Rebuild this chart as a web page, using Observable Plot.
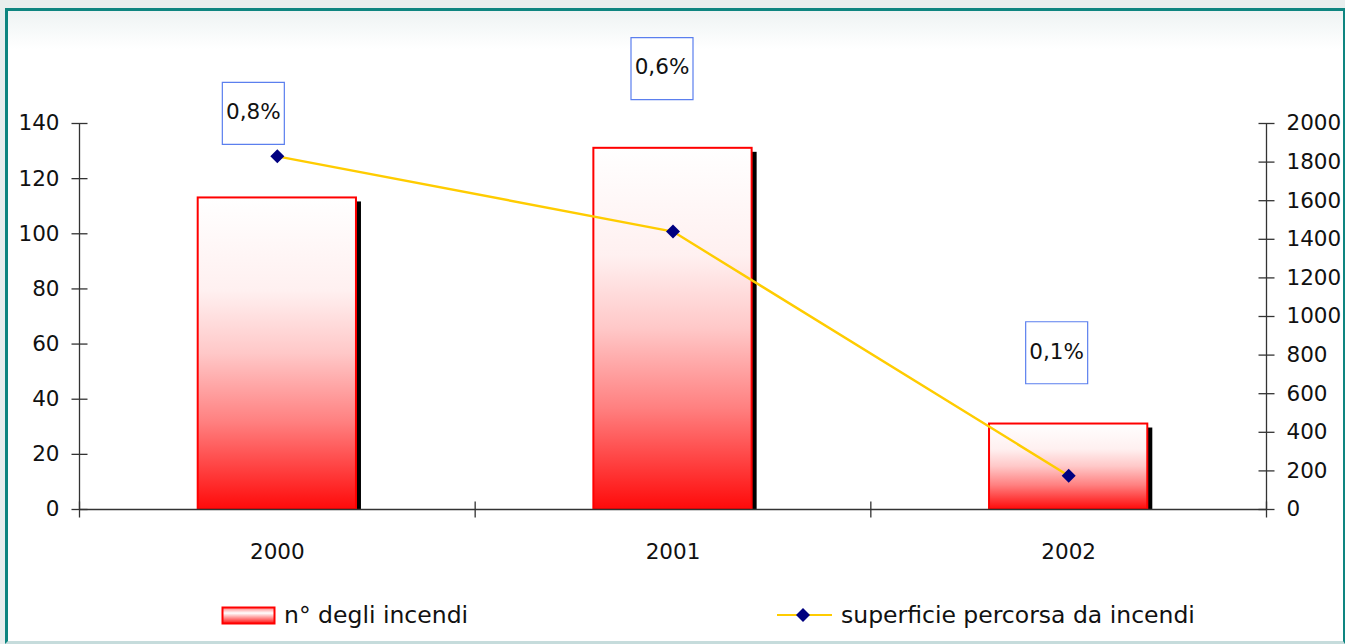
<!DOCTYPE html>
<html>
<head>
<meta charset="utf-8">
<script src="https://cdn.jsdelivr.net/npm/d3@7"></script>
<script src="https://cdn.jsdelivr.net/npm/@observablehq/plot@0.6"></script>
<style>
  html, body { margin: 0; padding: 0; }
  body {
    width: 1345px; height: 644px; position: relative; overflow: hidden;
    background: #e8eeee;
    font-family: "DejaVu Sans", sans-serif;
  }
  #frame {
    position: absolute; left: 5px; top: 8px; width: 1335px; height: 630px;
    border-left: 3px solid #0e8580; border-top: 3px solid #0e8580;
    border-right: 2px solid #0e8580; border-bottom: 3px solid #c6dcdc;
    background: linear-gradient(#eef3f3 0px, #ffffff 38px);
  }
  #chart { position: absolute; left: 0; top: 0; }
  .legend { position: absolute; top: 601px; display: flex; align-items: center;
    font-size: 23.5px; color: #111; }
  .legend svg { display: block; margin-right: 7px; }
</style>
</head>
<body>
<div id="frame"></div>
<div id="chart"></div>
<div class="legend" style="left:221px">
  <svg width="56" height="20"><defs>
    <linearGradient id="legGrad" x1="0" y1="0" x2="0" y2="1">
      <stop offset="0" stop-color="#ff8080"/><stop offset="0.35" stop-color="#ffffff"/>
      <stop offset="1" stop-color="#ff1010"/></linearGradient></defs>
    <rect x="1.5" y="2.5" width="52" height="16" fill="url(#legGrad)" stroke="#ff0000" stroke-width="2"/></svg>
  <span>n° degli incendi</span>
</div>
<div class="legend" style="left:776px">
  <svg width="58" height="20"><line x1="1" y1="10" x2="56" y2="10" stroke="#ffcc00" stroke-width="2"/>
    <path d="M27,3L34,10L27,17L20,10Z" fill="#000080"/></svg>
  <span>superficie percorsa da incendi</span>
</div>
<script>
// Data
const anni = [2000, 2001, 2002];
const incendi = [113, 131, 31];              // n° degli incendi (left axis)
const superficie = [1830, 1440, 175];        // superficie percorsa (right axis)
const percentuali = ["0,8%", "0,6%", "0,1%"];
const ticksSinistra = [0, 20, 40, 60, 80, 100, 120, 140];
const ticksDestra = [0, 200, 400, 600, 800, 1000, 1200, 1400, 1600, 1800, 2000];

// right axis 0–2000 shares the left 0–140 range
const k = 140 / 2000;

const rows = anni.map((a, i) => ({anno: a, incendi: incendi[i], superficie: superficie[i], pct: percentuali[i]}));

// symbols
const hline = {draw(c) { c.moveTo(-8, 0); c.lineTo(8, 0); }};
const vline = {draw(c) { c.moveTo(0, -8); c.lineTo(0, 8); }};
const diamond = {draw(c) { c.moveTo(0, -7); c.lineTo(7, 0); c.lineTo(0, 7); c.lineTo(-7, 0); c.closePath(); }};
const box = {draw(c) { c.rect(-31, -31, 62, 62); }};

// gradient definition for the bars
const defs = () => {
  const svgNS = "http://www.w3.org/2000/svg";
  const d = document.createElementNS(svgNS, "defs");
  d.innerHTML = `<linearGradient id="barGrad" x1="0" y1="0" x2="0" y2="1">
      <stop offset="0" stop-color="#ffffff"/>
      <stop offset="0.3" stop-color="#fff0f0"/>
      <stop offset="0.5" stop-color="#ffc8c8"/>
      <stop offset="0.72" stop-color="#ff8080"/>
      <stop offset="1" stop-color="#ff0a0a"/>
    </linearGradient>`;
  return d;
};

// label box offsets relative to each line point (px)
const labelOffsets = [[-24, -43], [-11, -163], [-12, -123]];

const labelMarks = rows.flatMap((r, i) => [
  Plot.dot([r], {x: "anno", y: d => d.superficie * k, dx: labelOffsets[i][0], dy: labelOffsets[i][1],
    symbol: box, fill: "white", stroke: "#5b7fee", strokeWidth: 1.2}),
  Plot.text([r], {x: "anno", y: d => d.superficie * k, dx: labelOffsets[i][0], dy: labelOffsets[i][1] - 1,
    text: "pct", fontSize: 21.5, fill: "#111"})
]);

const chart = Plot.plot({
  width: 1345,
  height: 600,
  marginLeft: 79,
  marginRight: 79,
  marginTop: 123,
  marginBottom: 91,
  style: {fontFamily: "DejaVu Sans, sans-serif", fontSize: "21.5px", color: "#111", background: "transparent", overflow: "visible"},
  x: {type: "linear", domain: [1999.5, 2002.5]},
  y: {domain: [0, 140]},
  marks: [
    defs,
    // bar shadows
    Plot.rectY(rows, {x1: d => d.anno - 0.2, x2: d => d.anno + 0.2, y1: 0, y2: "incendi",
      fill: "black", dx: 5, dy: 4, insetBottom: 4}),
    // bars
    Plot.rectY(rows, {x1: d => d.anno - 0.2, x2: d => d.anno + 0.2, y1: 0, y2: "incendi",
      fill: "url(#barGrad)", stroke: "#ff0000", strokeWidth: 2}),
    // axis lines
    Plot.ruleY([0], {stroke: "#333", strokeWidth: 1.3}),
    Plot.ruleX([1999.5, 2002.5], {y1: 0, y2: 140, stroke: "#333", strokeWidth: 1.3}),
    // crossing tick marks
    Plot.dot(ticksSinistra, {y: d => d, frameAnchor: "left", symbol: hline, stroke: "#333", strokeWidth: 1.3}),
    Plot.dot(ticksDestra, {y: d => d * k, frameAnchor: "right", symbol: hline, stroke: "#333", strokeWidth: 1.3}),
    Plot.dot([1999.5, 2000.5, 2001.5, 2002.5], {x: d => d, frameAnchor: "bottom", symbol: vline, stroke: "#333", strokeWidth: 1.3}),
    // tick labels
    Plot.axisY({anchor: "left", ticks: ticksSinistra, tickSize: 0, tickPadding: 20, label: null}),
    Plot.axisY({anchor: "right", ticks: ticksDestra.map(v => v * k), tickSize: 0, tickPadding: 20,
      tickFormat: d => String(Math.round(d / k)), label: null}),
    Plot.axisX({ticks: anni, tickSize: 0, tickPadding: 34, tickFormat: d => String(d), label: null}),
    // superficie line
    Plot.line(rows, {x: "anno", y: d => d.superficie * k, stroke: "#ffcc00", strokeWidth: 2.4}),
    Plot.dot(rows, {x: "anno", y: d => d.superficie * k, symbol: diamond, fill: "#000080"}),
    ...labelMarks
  ]
});
document.getElementById("chart").appendChild(chart);
</script>
</body>
</html>
